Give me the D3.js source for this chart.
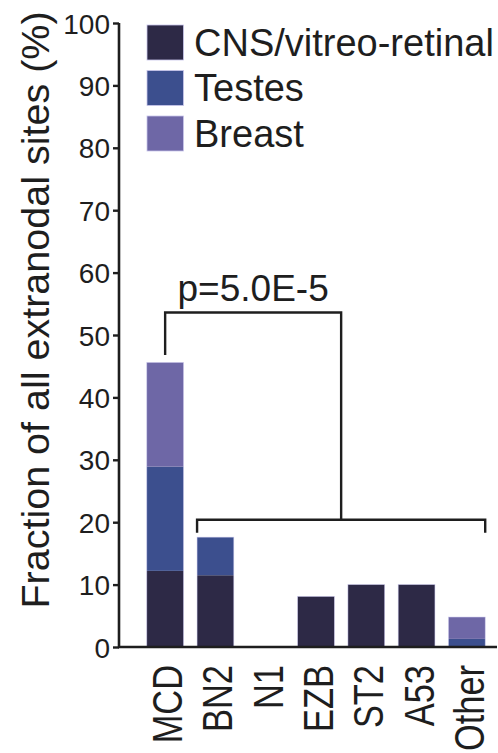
<!DOCTYPE html>
<html>
<head>
<meta charset="utf-8">
<script src="https://cdn.jsdelivr.net/npm/d3@7"></script>
<style>
  body { margin: 0; background: #fff; }
  text { font-family: "Liberation Sans", Arial, Helvetica, sans-serif; fill: #1e1e1e; }
</style>
</head>
<body>
<script>
var categories = ["MCD", "BN2", "N1", "EZB", "ST2", "A53", "Other"];
var cns = [12.2, 11.5, 0, 8.1, 10.0, 10.0, 0];
var testes = [16.7, 6.1, 0, 0, 0, 0, 1.3];
var breast = [16.7, 0, 0, 0, 0, 0, 3.5];
var seriesNames = ["CNS/vitreo-retinal", "Testes", "Breast"];
var seriesColors = ["#2d2946", "#3c4f8e", "#6e67a6"];
var yTicks = [0, 10, 20, 30, 40, 50, 60, 70, 80, 90, 100];
var pLabel = "p=5.0E-5";

var width = 498, height = 753;
var svg = d3.select("body").append("svg").attr("width", width).attr("height", height);

var x = d3.scaleBand().domain(categories).range([140, 492]).paddingInner(0.27).paddingOuter(0.135);
var y = d3.scaleLinear().domain([0, 100]).range([647, 23]);

// stack the three series
var rows = categories.map(function(c, i) {
  return { cat: c, s0: cns[i], s1: testes[i], s2: breast[i] };
});
var stacked = d3.stack().keys(["s0", "s1", "s2"])(rows);

svg.selectAll("g.layer").data(stacked).enter().append("g")
  .attr("class", "layer")
  .attr("fill", function(d, i) { return seriesColors[i]; })
  .selectAll("rect").data(function(d) { return d; }).enter().append("rect")
  .attr("x", function(d) { return x(d.data.cat); })
  .attr("y", function(d) { return y(d[1]); })
  .attr("width", x.bandwidth())
  .attr("height", function(d) { return y(d[0]) - y(d[1]); });

// faint outline round each whole bar
var last = stacked[stacked.length - 1];
svg.selectAll("rect.outline").data(last.filter(function(d) { return d[1] > 0; })).enter().append("rect")
  .attr("class", "outline")
  .attr("x", function(d) { return x(d.data.cat); })
  .attr("y", function(d) { return y(d[1]); })
  .attr("width", x.bandwidth())
  .attr("height", function(d) { return y(0) - y(d[1]); })
  .attr("fill", "none").attr("stroke", "#c9c6ec").attr("stroke-width", 0.7).attr("stroke-opacity", 0.7);

// y axis
var yAxis = svg.append("g").attr("transform", "translate(119,0)")
  .call(d3.axisLeft(y).tickValues(yTicks).tickSize(6).tickPadding(3));
yAxis.select(".domain").attr("stroke", "#1e1e1e").attr("stroke-width", 2.6).attr("d", "M0," + y(100) + "V" + y(0));
yAxis.selectAll(".tick line").attr("stroke", "#1e1e1e").attr("stroke-width", 2.4);
yAxis.selectAll(".tick text").style("font-size", "28px").attr("dy", "0.36em").attr("fill", "#1e1e1e");

// x axis
svg.append("line").attr("x1", 118).attr("x2", 497).attr("y1", y(0)).attr("y2", y(0))
  .attr("stroke", "#1e1e1e").attr("stroke-width", 2.6);

svg.selectAll("text.xlab").data(categories).enter().append("text")
  .attr("class", "xlab")
  .attr("transform", function(d) {
    return "translate(" + (x(d) + x.bandwidth() / 2 + 17) + ",665) rotate(-90) scale(0.8,1)";
  })
  .attr("text-anchor", "end")
  .style("font-size", "43px")
  .text(function(d) { return d; });

// y title
svg.append("text")
  .attr("transform", "translate(49,310) rotate(-90)")
  .attr("text-anchor", "middle")
  .style("font-size", "39.5px")
  .text("Fraction of all extranodal sites (%)");

// legend
var legend = svg.selectAll("g.leg").data(seriesNames).enter().append("g")
  .attr("class", "leg")
  .attr("transform", function(d, i) { return "translate(147," + (25 + i * 45.5) + ")"; });
legend.append("rect").attr("width", 36.5).attr("height", 35)
  .attr("fill", function(d, i) { return seriesColors[i]; })
  .attr("stroke", "#c9c6ec").attr("stroke-width", 0.8);
legend.append("text").attr("x", 47).attr("y", 30.5)
  .style("font-size", "38px")
  .text(function(d) { return d; });

// significance brackets
var lowL = x("BN2"), lowR = x("Other") + x.bandwidth();
var lowMid = (lowL + lowR) / 2;
var topL = x("MCD") + x.bandwidth() / 2;
var bracket = svg.append("g").attr("fill", "none").attr("stroke", "#1e1e1e").attr("stroke-width", 2.4);
bracket.append("path").attr("d",
  "M" + lowL + "," + y(18.3) + "V" + y(20.4) + "H" + lowR + "V" + y(18.3));
bracket.append("path").attr("d",
  "M" + topL + "," + y(46.8) + "V" + y(53.6) + "H" + lowMid + "V" + y(20.4));
svg.append("text")
  .attr("x", (topL + lowMid) / 2).attr("y", 301)
  .attr("text-anchor", "middle")
  .style("font-size", "37px")
  .text(pLabel);
</script>
</body>
</html>
